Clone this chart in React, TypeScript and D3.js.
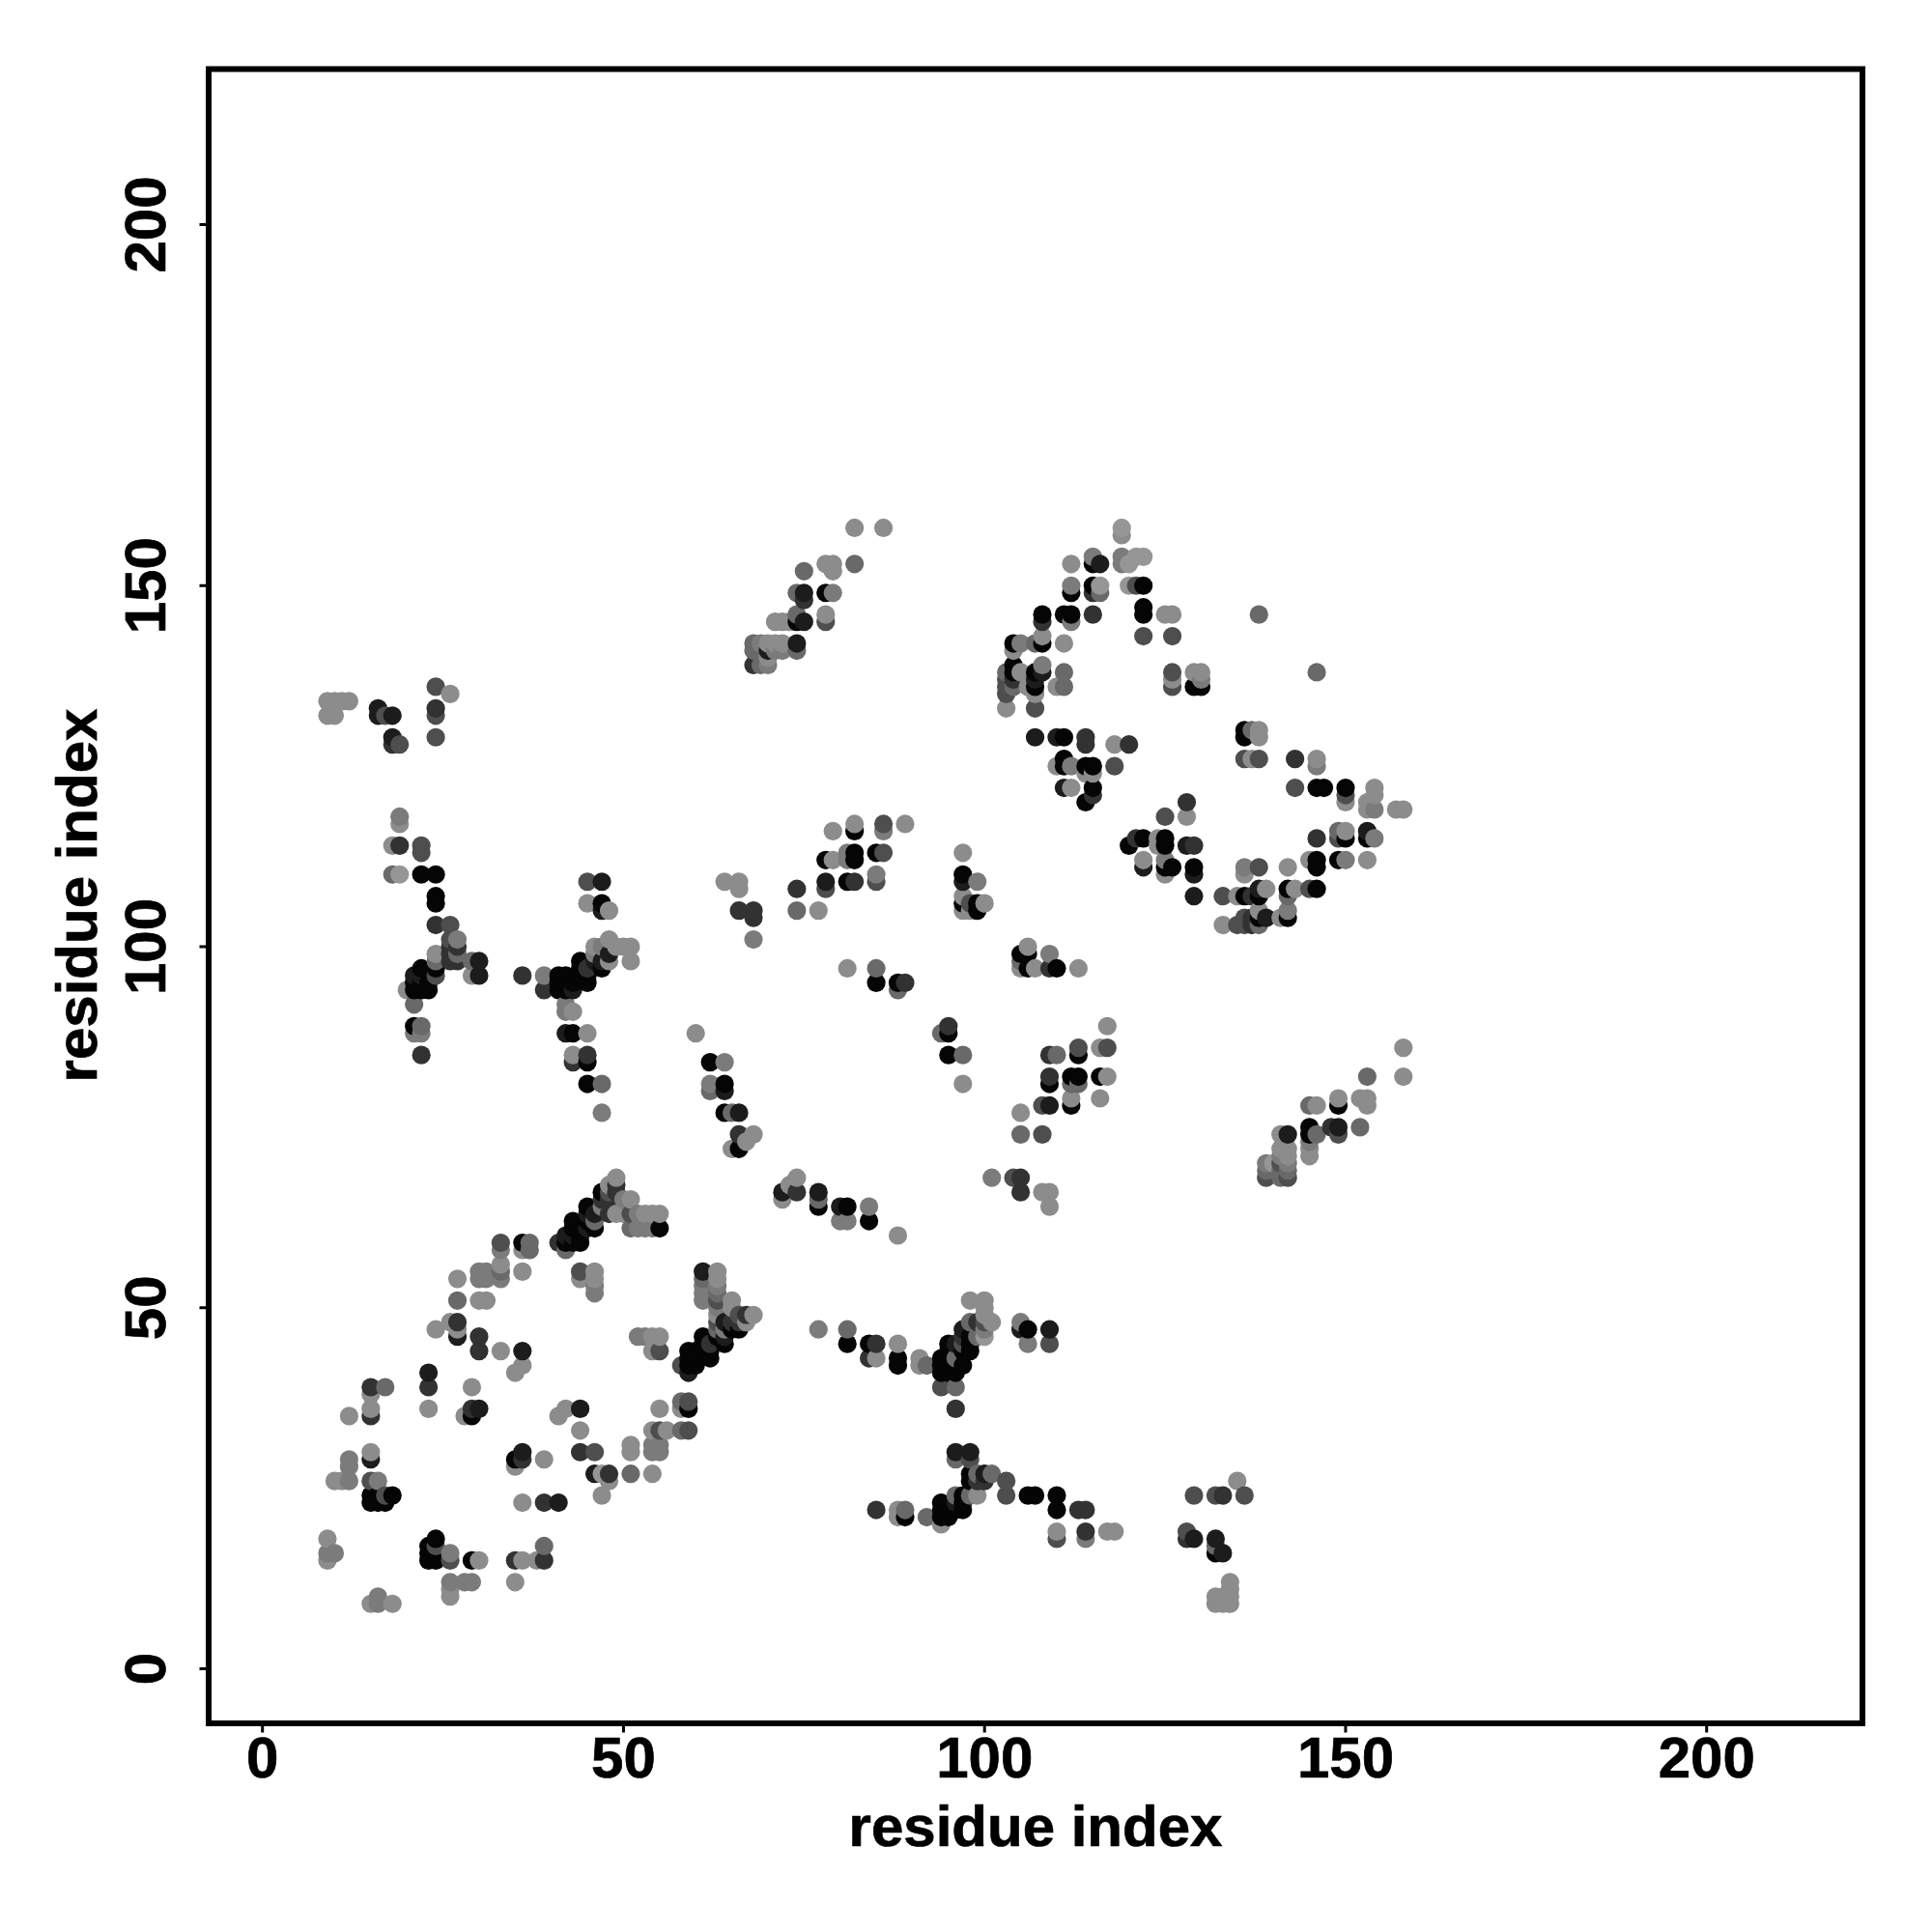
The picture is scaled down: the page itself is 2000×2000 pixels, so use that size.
import React from "react";
import * as d3 from "d3";

type C = [number, number, number];
// [residue i, residue j, shade: 0 black ... 7 light grey]
const lowerLeft: C[] = [
[9,18,6],[9,16,5],[9,15,6],[10,16,5],[15,9,6],[16,10,5],[16,9,5],[18,9,6],
[10,26,6],[11,26,6],[12,26,5],[12,28,5],[12,29,5],[15,30,6],[15,29,1],[15,26,3],[16,26,5],
[15,24,0],[15,23,0],[16,24,0],[16,23,0],[17,24,3],[17,23,0],[18,24,0],
[12,35,6],[15,35,2],[15,36,6],[15,38,6],[15,39,2],[17,39,4],
[23,41,1],[23,39,2],[23,36,6],[23,17,0],[23,16,0],[23,15,0],[24,18,0],[24,17,3],[24,15,0],
[26,16,5],[26,15,3],[26,12,5],[26,11,6],[26,10,6],[28,12,5],[29,12,5],[29,15,0],[30,15,6],
[35,15,2],[36,15,6],[38,15,6],[39,15,2],[39,17,4],[35,12,6],
[29,39,6],[28,35,6],[29,35,0],[29,36,2],[30,36,1],
[41,35,6],[42,36,6],[44,36,1],[44,33,6],[44,30,2],[46,30,3],[46,27,1],[47,27,7],[48,27,2],[48,26,6],[47,24,6],
[35,29,0],[35,28,6],[36,30,1],[36,29,2],[39,29,6],[36,23,6],[39,23,2],[41,23,1],
[51,27,4],[54,27,6],[51,30,6],[51,31,6],[54,30,5],[54,31,5],[55,30,5],[55,31,5],
[54,33,6],[55,33,3],[56,33,6],[58,33,4],[59,33,3],[55,36,6],[58,37,4],[58,36,6],[59,37,3],[59,36,0],
];
const leftArc: C[] = [
[27,54,6],[30,54,5],[30,55,5],[31,55,5],[31,54,5],[33,54,5],[33,55,4],[33,56,6],[33,58,5],[33,59,3],[36,55,6],
[36,59,0],[36,58,6],[37,59,4],[37,58,4],[27,51,4],[30,51,6],[31,51,6],
[24,47,6],[26,48,6],[27,48,2],[27,47,6],[27,46,1],[30,46,2],[30,44,2],[33,44,6],[36,44,1],[36,42,6],[35,41,6],
[44,55,3],[44,54,6],[46,55,6],[46,54,6],[46,53,5],[46,52,5],
[52,46,5],[53,46,5],[54,46,6],[55,46,6],[54,44,6],[55,44,3],
];
const centerBand: C[] = [
[58,42,3],[59,44,0],[59,43,0],[59,42,0],[59,41,1],[60,44,0],[60,43,0],[60,42,0],
[61,55,1],[61,54,4],[61,53,5],[61,52,5],[61,51,5],[61,46,0],[61,45,0],[62,45,2],[62,44,0],[62,43,0],
[63,55,6],[63,54,6],[63,53,5],[63,52,4],[63,51,3],[63,50,5],[63,49,6],[63,48,3],[63,47,4],[63,46,0],
[64,48,1],[64,47,5],[64,46,1],[64,45,0],[65,51,6],[65,50,6],[65,48,2],[65,47,0],
[66,49,3],[66,48,2],[66,47,0],[67,49,2],[67,48,6],[68,49,6],
];
const upperArc: C[] = [
[41,59,2],[42,60,1],[42,59,0],[42,58,4],[43,62,0],[43,61,0],[43,60,1],[43,59,0],[44,60,0],[44,59,0],
[45,64,0],[45,63,1],[45,62,0],[45,61,1],[46,63,1],[46,62,4],[46,61,0],
[47,66,0],[47,65,2],[47,64,5],[48,67,6],[48,66,3],[48,65,2],[48,63,2],[49,68,6],[49,67,2],[49,66,2],[49,63,6],
[50,65,5],[50,63,6],[51,65,6],[51,63,3],[51,61,4],[52,63,5],[52,61,5],[53,63,6],[53,61,5],[54,63,6],[54,61,5],[55,63,6],[55,61,0],
];
const midSpines: C[] = [
[19,118,5],[19,117,6],[18,114,6],[19,114,2],[22,114,3],[22,113,3],[18,110,4],[19,110,7],[22,110,0],[24,110,0],
[24,107,0],[24,106,0],[24,103,2],[26,103,3],[26,101,3],[26,100,2],[26,99,2],[26,98,2],[27,101,5],[27,100,2],[27,99,4],[27,98,2],
[24,99,6],[24,98,4],[24,97,0],[24,96,3],[22,97,0],[21,96,1],[21,95,0],[21,94,0],[22,96,1],[22,95,0],[22,94,0],[23,95,0],[23,94,0],
[20,94,6],[21,92,4],[21,89,0],[21,88,5],[22,89,4],[22,88,5],[22,85,2],[29,98,4],[30,98,1],[29,96,6],[30,96,1],[36,96,2],
[39,96,5],[39,94,2],[41,96,0],[41,95,0],[41,94,0],[42,96,0],[42,95,0],[42,94,0],[43,95,0],[43,94,1],[44,98,0],[44,97,0],[44,96,0],
[45,97,2],[45,96,0],[45,95,0],[46,100,6],[46,99,5],[46,98,1],[47,100,5],[47,98,1],[47,97,0],[48,101,6],[48,99,1],[48,98,6],
[49,100,6],[50,100,6],[51,100,6],[51,98,6],[45,109,3],[47,109,1],[45,106,6],[47,106,0],[47,105,1],[48,105,6],
[42,92,5],[42,91,5],[43,91,6],[42,88,1],[43,88,0],[45,88,6],[43,85,6],[43,84,2],[45,85,2],[45,84,0],[45,81,0],[47,81,4],[47,77,5],
];
const midDiagonal: C[] = [
[60,88,6],[62,84,0],[64,84,5],[62,81,5],[62,80,4],[64,81,0],[64,80,1],[64,77,0],[65,77,4],[66,77,1],
[66,74,2],[68,74,6],[67,73,6],[66,72,0],[65,72,6],[72,66,1],[72,65,6],[73,67,6],[74,68,6],[74,66,2],
[77,66,1],[77,65,4],[77,64,0],[80,64,1],[81,64,0],[80,62,5],[81,62,5],[84,64,5],[84,62,0],[88,60,6],
[77,47,5],[81,47,4],[81,45,0],[84,45,0],[84,43,2],[85,45,2],[85,43,6],[88,45,6],[88,43,0],[88,42,0],[91,43,6],[91,42,6],[92,42,4],
];
const vShape: C[] = [
[94,43,0],[94,42,0],[94,41,0],[94,39,3],[95,45,0],[95,44,0],[95,43,0],[95,42,0],[95,41,0],[96,45,1],[96,43,4],[96,42,0],[96,41,0],[96,39,4],[96,36,2],
[97,47,1],[97,46,2],[97,45,3],[97,44,0],[97,42,0],[98,51,6],[98,48,4],[98,46,0],[98,45,0],[98,44,0],
[99,48,2],[99,46,4],[100,51,6],[100,50,6],[100,49,6],[100,48,3],[100,47,5],[100,46,7],[101,48,6],
[105,48,5],[105,47,1],[106,47,0],[106,45,5],[109,47,1],[109,45,3],
];
const lowerRight: C[] = [
[85,22,2],[88,22,6],[88,21,6],[89,22,4],[89,21,0],[92,21,4],[94,23,0],[94,22,0],[94,21,0],[94,20,6],[95,22,0],[95,21,0],
[96,30,1],[96,29,4],[96,24,4],[96,23,1],[96,22,0],[97,24,0],[97,23,0],[97,22,0],[98,30,1],[98,29,3],[98,27,0],[98,26,0],[98,24,4],
[99,27,4],[99,26,2],[99,24,6],[100,27,1],[100,26,2],[101,27,4],[103,26,3],[103,24,3],[106,24,0],[107,24,0],[110,24,0],[110,22,0],
[113,22,2],[114,22,2],[110,19,6],[110,18,3],[114,19,2],[114,18,5],[117,19,6],[118,19,6],
[129,24,3],[132,24,3],[133,24,2],[135,26,6],[136,24,3],[128,19,3],[128,18,2],[129,18,1],[132,18,1],[132,17,4],[132,16,0],[133,16,1],
[134,12,6],[134,11,6],[134,10,6],[134,9,6],[132,10,6],[132,9,6],[133,10,6],[133,9,6],
];
const topLeft: C[] = [
[9,134,6],[10,134,6],[11,134,6],[12,134,6],[9,132,6],[10,132,6],[16,133,1],[16,132,1],[17,132,3],[18,132,1],
[18,129,1],[18,128,2],[19,128,3],[24,136,3],[26,135,6],[24,133,2],[24,132,3],[24,129,3],
];
const topMiddle: C[] = [
[82,158,6],[86,158,6],[82,153,4],[78,153,6],[79,153,6],[79,152,6],[75,152,4],[74,149,4],[75,149,1],[75,148,2],
[78,149,0],[79,149,5],[78,146,6],[78,145,3],[74,146,4],[74,145,0],[75,145,1],[71,145,6],[72,145,6],[73,145,6],
[74,142,1],[74,141,4],[72,142,6],[71,142,6],[70,142,6],[69,142,5],[68,142,4],[68,141,4],[70,141,1],[71,141,5],[72,141,5],
[68,139,2],[69,139,4],[70,139,5],[70,140,6],
[64,109,6],[66,109,6],[66,108,6],[66,105,2],[68,105,2],[68,104,2],[68,101,5],
[74,108,2],[74,105,4],[77,105,6],[78,109,1],[78,108,3],[78,112,0],[79,112,6],[79,116,6],
[81,113,5],[81,112,5],[82,113,0],[82,112,0],[81,109,0],[82,109,2],[82,117,6],[82,116,0],
[85,113,0],[86,113,3],[85,110,5],[85,109,3],[86,117,3],[86,116,5],[89,117,6],
[81,97,6],[85,97,4],[85,95,0],[88,95,0],[89,95,2],[88,94,4],[94,88,4],[95,89,2],[95,88,0],[95,85,0],[97,85,4],[97,81,6],
[97,113,6],[97,110,0],[97,109,1],[99,109,5],[97,107,6],[97,106,0],[97,105,6],[98,106,3],[98,105,6],[99,106,0],[99,105,0],[100,106,6],
];
const rightDiagonal: C[] = [
[105,99,0],[105,98,4],[105,97,6],[106,100,6],[106,99,0],[106,97,0],[107,97,6],[109,99,5],[109,97,2],[110,97,0],[113,97,6],
[117,89,6],[116,86,6],[117,86,3],[113,86,3],[113,85,0],[109,85,2],[110,85,4],[109,82,2],[109,81,0],[112,82,0],[113,82,0],[112,81,4],[113,81,4],
[116,82,0],[117,82,6],[116,79,6],[112,79,6],[112,78,0],[108,78,3],[109,78,1],[105,77,6],[105,74,4],[108,74,3],
[101,68,5],[104,68,3],[105,68,2],[105,66,2],[108,66,6],[109,66,6],[109,64,6],
[158,86,6],[158,82,6],[153,82,4],[152,79,6],[153,79,6],[153,78,6],[149,79,6],[149,78,0],[145,78,4],[146,78,6],
[152,75,4],[148,75,2],[149,75,1],[149,74,3],[145,75,0],[145,74,0],[146,74,4],[145,73,5],[145,72,6],[145,71,6],
[141,74,6],[142,74,1],[141,72,6],[142,72,6],[141,71,5],[142,71,6],[141,70,3],[142,70,5],[141,69,4],[142,69,4],[141,68,4],[142,68,3],
[139,70,5],[139,69,4],[139,68,3],[140,70,7],
];
const ringTop: C[] = [
[119,158,7],[119,157,6],[112,153,6],[115,154,5],[115,153,0],[116,153,1],[119,154,5],[119,153,5],[120,153,7],[121,154,7],[122,154,7],
[112,150,5],[112,149,0],[115,150,0],[115,149,2],[116,150,7],[116,149,4],[120,150,7],[121,150,3],[122,150,0],
[122,147,0],[122,146,0],[125,146,6],[126,146,6],[138,146,4],[108,146,0],[108,145,2],[111,146,0],[112,146,0],[112,145,5],[115,146,2],
[122,143,3],[126,143,3],[104,142,0],[105,142,5],[104,141,6],[107,142,4],[108,143,6],[108,142,0],[111,142,6],
[103,138,4],[103,137,3],[103,136,3],[103,135,3],[103,133,6],[104,139,0],[104,138,0],[104,137,2],[104,136,4],[105,138,6],[106,136,6],
[107,138,0],[107,137,1],[107,136,0],[107,135,6],[107,133,3],[108,139,5],[108,138,1],[111,138,4],[111,136,4],[110,136,6],
[126,138,3],[126,137,6],[126,136,3],[129,138,6],[130,138,6],[130,137,5],[129,136,0],[130,136,0],[146,138,4],
];
const ringMiddle: C[] = [
[107,129,1],[110,129,1],[111,129,0],[114,129,2],[114,128,2],[118,128,6],[120,128,2],
[111,126,0],[110,125,6],[111,125,0],[112,125,5],[114,125,0],[115,125,0],[114,124,6],[115,124,6],[118,125,3],
[111,122,1],[112,122,6],[115,122,0],[115,121,2],[114,120,0],
[136,130,0],[137,130,4],[138,130,6],[136,129,0],[138,129,6],[136,126,3],[137,126,6],[138,126,3],
[143,126,2],[146,126,6],[146,125,5],[143,122,3],[146,122,0],[147,122,0],[150,122,0],[150,121,3],[150,120,6],
[154,122,6],[154,121,6],[153,120,6],[153,119,6],[154,119,5],[157,119,6],[158,119,6],
[128,120,2],[125,118,3],[128,118,6],
];
const ringBottom: C[] = [
[120,114,0],[121,115,2],[122,115,0],[124,115,6],[124,114,6],[125,115,0],[125,114,0],[128,114,1],[129,114,2],
[122,112,6],[122,111,1],[125,112,5],[125,111,0],[125,110,6],[126,111,0],[129,111,0],[129,110,1],[129,107,1],
[146,115,2],[149,116,4],[150,116,6],[149,115,3],[150,115,0],[153,116,1],[153,115,0],[154,115,5],
[145,112,6],[146,112,0],[146,111,0],[149,112,0],[150,112,5],[153,112,6],[142,111,6],[136,111,5],[138,111,3],[136,110,6],
[139,108,6],[138,108,1],[138,107,0],[137,107,2],[136,107,0],[135,107,6],[133,107,3],[142,108,0],[143,108,6],[142,107,4],[145,108,3],[146,108,0],
[133,103,6],[135,103,3],[136,104,3],[136,103,3],[137,104,2],[137,103,2],[138,105,6],[138,104,0],[138,103,4],[139,104,1],[141,104,6],[142,105,5],[142,104,0],
];

const contacts: C[] = [
  ...lowerLeft, ...leftArc, ...centerBand, ...upperArc, ...midSpines, ...midDiagonal, ...vShape,
  ...lowerRight, ...topLeft, ...topMiddle, ...rightDiagonal, ...ringTop, ...ringMiddle, ...ringBottom,
];
const tickValues = [0, 50, 100, 150, 200];
const axisLabel = "residue index";

const x = d3.scaleLinear().domain([0, 200]).range([271.7, 1766.7]);
const y = d3.scaleLinear().domain([0, 200]).range([1727.5, 232.5]);
const shade = d3.scaleLinear<number>().domain([0, 2, 4, 6, 7]).range([5, 50, 105, 140, 150]);
const FONT = "'Liberation Sans', Arial, sans-serif";
const frame = { left: 216, right: 1928, top: 71.5, bottom: 1784 };

export default function App() {
  const sorted = [...contacts].sort((a, b) => a[0] - b[0] || a[1] - b[1]);
  const textProps = { fontFamily: FONT, fontWeight: "bold", stroke: "#000", strokeWidth: 0.7 };
  return (
    <svg width={2000} height={2000} style={{ position: "absolute", left: 0, top: 0, background: "#fff" }}>
      {sorted.map((d, i) => {
        const g = Math.round(shade(d[2]));
        return <circle key={i} cx={x(d[0])} cy={y(d[1])} r={9.6} fill={d3.rgb(g, g, g).formatHex()} />;
      })}
      <rect x={frame.left} y={frame.top} width={frame.right - frame.left} height={frame.bottom - frame.top}
        fill="none" stroke="#000" strokeWidth={6} />
      {tickValues.map((t) => (
        <g key={t}>
          <line x1={x(t)} x2={x(t)} y1={frame.bottom} y2={frame.bottom + 9.5} stroke="#000" strokeWidth={3} />
          <text x={x(t)} y={1839.5} textAnchor="middle" fontSize={60} {...textProps}>{t}</text>
          <line x1={frame.left - 9.5} x2={frame.left} y1={y(t)} y2={y(t)} stroke="#000" strokeWidth={3} />
          <text transform={`translate(171,${y(t)}) rotate(-90)`} textAnchor="middle" fontSize={60} {...textProps}>{t}</text>
        </g>
      ))}
      <text x={1072} y={1911} textAnchor="middle" fontSize={60} {...textProps}>{axisLabel}</text>
      <text transform="translate(100,927) rotate(-90)" textAnchor="middle" fontSize={60} {...textProps}>{axisLabel}</text>
    </svg>
  );
}
